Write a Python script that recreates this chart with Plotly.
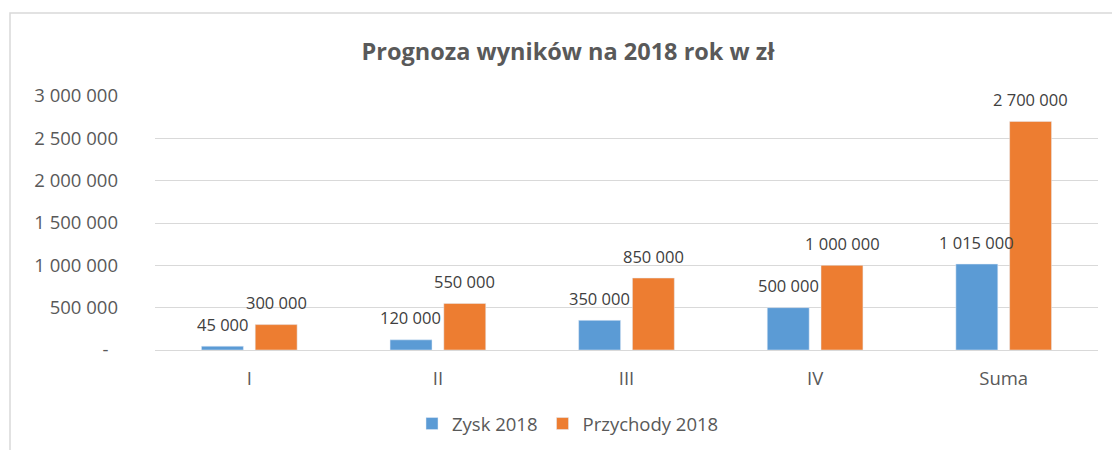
import plotly.graph_objects as go

categories = ["I", "II", "III", "IV", "Suma"]
zysk_2018 = [45000, 120000, 350000, 500000, 1015000]
przychody_2018 = [300000, 550000, 850000, 1000000, 2700000]
y_tick_vals = [0, 500000, 1000000, 1500000, 2000000, 2500000, 3000000]
y_tick_text = ["-\u00a0\u00a0", "500 000", "1 000 000", "1 500 000", "2 000 000", "2 500 000", "3 000 000"]

BLUE = "#5B9BD5"
ORANGE = "#ED7D31"
FONT = "Open Sans"

def fmt(v):
    return f"{v:,}".replace(",", " ")

fig = go.Figure()
fig.add_trace(go.Bar(name="Zysk 2018", x=categories, y=zysk_2018, marker_color=BLUE))
fig.add_trace(go.Bar(name="Przychody 2018", x=categories, y=przychody_2018, marker_color=ORANGE))

annotations = []
for vals, shift in ((zysk_2018, -27), (przychody_2018, 27)):
    for c, v in zip(categories, vals):
        annotations.append(dict(
            x=c, y=v, xref="x", yref="y", text=fmt(v), showarrow=False,
            xshift=shift, yshift=22, yanchor="middle", xanchor="center",
            font=dict(family=FONT, size=16.5, color="#404040"),
        ))

L, R, T, B = 155, 14, 96, 100
W, H = 1112, 450
pw, ph = W - L - R, H - T - B

fig.update_layout(
    width=W, height=H,
    margin=dict(l=L, r=R, t=T, b=B),
    paper_bgcolor="white", plot_bgcolor="white",
    barmode="group", bargap=0.43, bargroupgap=0.22,
    title=dict(text="<b>Prognoza wyników na 2018 rok w zł</b>",
               x=568 / W, xref="container", xanchor="center",
               y=1 - 52 / H, yref="container", yanchor="middle",
               font=dict(family=FONT, size=23.5, color="#595959")),
    legend=dict(orientation="h", x=568 / W, xref="container", xanchor="center",
                y=1 - 424 / H, yref="container", yanchor="middle",
                font=dict(family=FONT, size=18.5, color="#595959"),
                itemwidth=30, traceorder="normal"),
    annotations=annotations,
    shapes=[dict(type="rect", xref="paper", yref="paper",
                 x0=(10 - L) / pw, x1=(W + 5 - L) / pw,
                 y0=(H - T - B - (H + 5 - T)) / ph, y1=(H - B - 13) / ph,
                 line=dict(color="#D9D9D9", width=1.5), fillcolor="rgba(0,0,0,0)", layer="below")],
    font=dict(family=FONT, color="#595959"),
)
fig.update_yaxes(range=[0, 3000000], tickvals=y_tick_vals, ticktext=y_tick_text,
                 showgrid=True, gridcolor="#D9D9D9", gridwidth=1.3, zeroline=False,
                 showline=False, ticks="", ticklabelstandoff=36,
                 tickfont=dict(family=FONT, size=18.5, color="#595959"))
fig.update_xaxes(showline=True, linecolor="#D9D9D9", linewidth=1.3, ticks="",
                 ticklabelstandoff=12,
                 tickfont=dict(family=FONT, size=18.5, color="#595959"))

fig.write_html("out.html")
